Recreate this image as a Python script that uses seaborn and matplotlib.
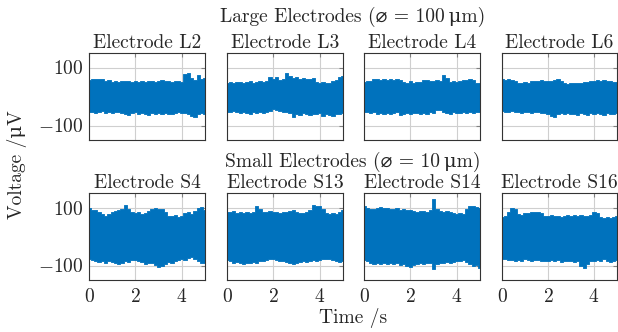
"""Electrode noise traces: 2 x 4 panels (large / small electrodes)."""

import matplotlib
matplotlib.use("Agg")

import matplotlib.pyplot as plt
import numpy as np
import pandas as pd
import seaborn as sns

# ---- data (envelope of each trace, in µV) ----
T_END = 5.0
X_TICKS = [0, 2, 4]
Y_TICKS = [-100, 100]

LARGE_TITLE = "Large Electrodes (\u2300 = 100\u2009\u03bcm)"
SMALL_TITLE = "Small Electrodes (\u2300 = 10\u2009\u03bcm)"
LARGE_NAMES = ["Electrode L2", "Electrode L3", "Electrode L4", "Electrode L6"]
SMALL_NAMES = ["Electrode S4", "Electrode S13", "Electrode S14", "Electrode S16"]
X_LABEL = "Time /s"
Y_LABEL = "Voltage /\u03bcV"

L2_up = [58, 60, 59, 62, 60, 55, 57, 51, 54, 50, 53, 55, 52, 49, 53, 51, 54, 50,
         55, 52, 49, 53, 56, 53, 55, 50, 52, 54, 50, 77, 80, 63, 58, 74, 60, 63]
L2_lo = [-55, -52, -57, -53, -51, -56, -54, -58, -55, -53, -57, -60, -63, -58, -55, -59, -56, -61,
         -63, -58, -62, -57, -60, -56, -59, -62, -57, -55, -58, -56, -60, -66, -69, -61, -57, -59]
L3_up = [48, 50, 46, 49, 51, 47, 50, 52, 48, 51, 53, 49, 52, 68, 60, 66, 57, 62,
         82, 71, 63, 66, 61, 64, 62, 60, 63, 51, 47, 49, 46, 48, 53, 56, 68, 70]
L3_lo = [-52, -55, -50, -53, -57, -54, -58, -60, -55, -57, -53, -56, -52, -50, -44, -47, -50, -52,
         -55, -58, -69, -60, -63, -58, -61, -65, -60, -62, -58, -66, -61, -63, -67, -59, -62, -57]
L4_up = [50, 52, 55, 59, 60, 57, 61, 58, 60, 56, 59, 57, 50, 48, 52, 47, 49, 51,
         58, 56, 55, 53, 56, 54, 74, 63, 51, 53, 49, 52, 58, 57, 59, 56, 46, 45]
L4_lo = [-52, -54, -57, -55, -59, -56, -60, -57, -61, -58, -55, -63, -60, -57, -62, -58, -56, -60,
         -57, -59, -55, -58, -46, -48, -55, -57, -60, -54, -56, -58, -55, -57, -54, -56, -53, -52]
L6_up = [60, 58, 61, 57, 55, 48, 46, 49, 47, 52, 55, 53, 56, 54, 52, 55, 57, 60,
         55, 46, 44, 47, 45, 48, 46, 49, 51, 55, 53, 56, 54, 57, 55, 53, 50, 51]
L6_lo = [-50, -52, -54, -51, -55, -53, -56, -54, -52, -57, -55, -53, -58, -56, -60, -67, -70, -59,
         -56, -60, -58, -62, -59, -63, -57, -61, -64, -58, -62, -56, -60, -63, -57, -59, -61, -58]

S4_up = [100, 92, 90, 84, 78, 72, 76, 86, 88, 90, 96, 108, 94, 84, 80, 83, 78, 82,
         88, 95, 97, 94, 96, 84, 72, 70, 74, 68, 71, 80, 84, 76, 88, 99, 101, 92]
S4_lo = [-76, -80, -84, -88, -86, -90, -84, -88, -92, -95, -90, -86, -88, -82, -80, -85, -89, -94,
         -90, -92, -98, -106, -100, -94, -88, -90, -86, -82, -78, -80, -74, -71, -78, -85, -92, -90]
S13_up = [86, 84, 88, 82, 85, 81, 84, 80, 83, 106, 95, 86, 84, 87, 83, 85, 82, 86,
          84, 88, 92, 86, 82, 80, 83, 90, 108, 104, 106, 96, 80, 78, 82, 79, 84, 92]
S13_lo = [-82, -86, -90, -88, -92, -95, -90, -93, -88, -91, -86, -84, -80, -78, -76, -80, -83, -86,
          -88, -92, -96, -90, -88, -85, -89, -86, -82, -84, -80, -78, -76, -79, -82, -85, -88, -84]
S14_up = [106, 100, 94, 96, 99, 101, 98, 100, 96, 94, 97, 92, 95, 93, 90, 88, 86, 89,
          87, 85, 90, 129, 94, 88, 86, 89, 85, 80, 78, 82, 79, 96, 104, 106, 103, 100]
S14_lo = [-82, -86, -90, -94, -92, -96, -93, -95, -91, -94, -92, -97, -95, -100, -106, -98, -94, -92,
          -95, -90, -93, -112, -96, -92, -90, -88, -91, -87, -84, -86, -82, -88, -94, -100, -97, -108]
S16_up = [66, 70, 84, 100, 96, 78, 75, 82, 80, 83, 84, 86, 81, 72, 70, 73, 69, 71,
          68, 72, 74, 70, 73, 71, 75, 72, 69, 74, 85, 80, 66, 64, 67, 63, 68, 72]
S16_lo = [-76, -78, -82, -80, -84, -81, -83, -79, -82, -85, -82, -80, -84, -86, -83, -81, -85, -82,
          -87, -84, -86, -83, -88, -85, -100, -108, -96, -86, -84, -80, -83, -79, -86, -88, -84, -82]

LARGE_DATA = [(L2_up, L2_lo), (L3_up, L3_lo), (L4_up, L4_lo), (L6_up, L6_lo)]
SMALL_DATA = [(S4_up, S4_lo), (S13_up, S13_lo), (S14_up, S14_lo), (S16_up, S16_lo)]

BLUE = "#0072BD"

sns.set_theme(style="white")
# cmr10 has no μ / ⌀, so the list lets them fall back to DejaVu
plt.rcParams["font.family"] = ["cmr10", "DejaVu Serif", "DejaVu Sans"]
plt.rcParams["mathtext.fontset"] = "cm"
plt.rcParams["axes.formatter.use_mathtext"] = True
FS = 14

W, H = 618, 332
fig = plt.figure(figsize=(W / 100, H / 100), dpi=100)

# panel boxes in pixels (left, right) / (top, bottom)
COLS = [(89, 205), (227, 343), (364, 480), (502, 617)]
ROWS = [(53, 140), (193, 280)]


def add_panel(col, row):
    (x0, x1), (y0, y1) = COLS[col], ROWS[row]
    return fig.add_axes([x0 / W, 1 - y1 / H, (x1 - x0) / W, (y1 - y0) / H])


def draw_trace(ax, up, lo, title, first_col, bottom_row):
    t = np.linspace(0, T_END, len(up))
    df = pd.DataFrame({"t": np.concatenate([t, t]),
                       "v": np.concatenate([up, lo])})
    # min/max band of the two envelopes, drawn as steps
    sns.lineplot(data=df, x="t", y="v", ax=ax, estimator="mean",
                 errorbar=("pi", 100), color=BLUE, linewidth=0,
                 err_kws={"alpha": 1, "step": "mid", "linewidth": 0.6,
                          "edgecolor": BLUE})
    ax.set_xlim(0, T_END)
    ax.set_ylim(-150, 150)
    ax.set_xticks(X_TICKS)
    ax.set_yticks(Y_TICKS)
    ax.set_xlabel("")
    ax.set_ylabel("")
    ax.grid(True, color="#cfcfcf", linewidth=0.8)
    ax.set_axisbelow(True)
    ax.tick_params(direction="in", length=3, width=0.8, color="#808080",
                   top=True, right=True, labelsize=FS, pad=4)
    ax.tick_params(axis="x", pad=6)
    if first_col:
        ax.set_yticklabels([rf"${v}$" for v in Y_TICKS])
    else:
        ax.set_yticklabels([])
    if bottom_row:
        ax.set_xticklabels([rf"${v}$" for v in X_TICKS])
    else:
        ax.set_xticklabels([])
    for s in ax.spines.values():
        s.set_color("#333333")
        s.set_linewidth(0.8)
    ax.set_title(title, fontsize=FS, pad=3.5)


for row, (names, data) in enumerate([(LARGE_NAMES, LARGE_DATA), (SMALL_NAMES, SMALL_DATA)]):
    for col, (name, (up, lo)) in enumerate(zip(names, data)):
        ax = add_panel(col, row)
        draw_trace(ax, up, lo, name, col == 0, row == 1)

fig.text(353 / W, 1 - 17 / H, LARGE_TITLE, ha="center", va="center", fontsize=FS)
fig.text(353 / W, 1 - 162 / H, SMALL_TITLE, ha="center", va="center", fontsize=FS)
fig.text(353 / W, 1 - 318 / H, X_LABEL, ha="center", va="center", fontsize=FS)
fig.text(17 / W, 1 - 165 / H, Y_LABEL, ha="center", va="center",
         rotation=90, fontsize=FS)

fig.savefig("out.png", dpi=100)
plt.close(fig)
